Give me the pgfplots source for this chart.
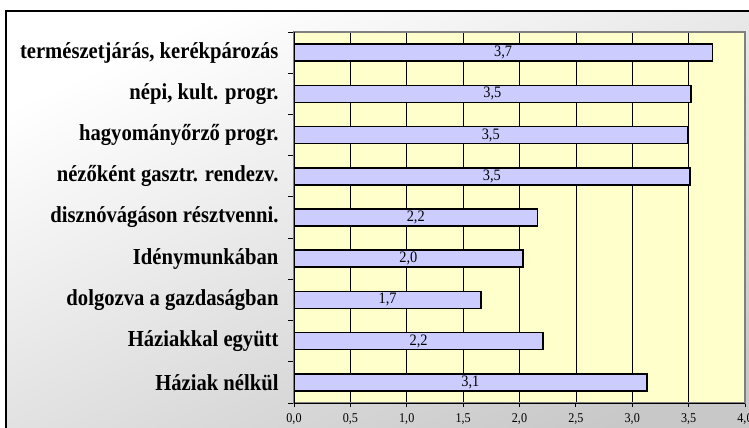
\documentclass[border=0pt]{standalone}
\usepackage{pgfplots}
\pgfplotsset{compat=1.18}
\usepackage{pgfplotstable}
\usepackage{fontspec}
\setmainfont{Liberation Serif}
\newfontfamily\stretchfont{Liberation Serif}[FakeStretch=0.9]
\definecolor{plotbg}{RGB}{255,255,204}
\definecolor{barfill}{RGB}{204,204,255}
\definecolor{bordergray}{RGB}{128,128,128}
\definecolor{bgend}{RGB}{200,200,200}
\pgfplotstableread{
y v
0 3.13
1 2.21
2 1.66
3 2.03
4 2.16
5 3.51
6 3.49
7 3.52
8 3.71
}\data
\begin{document}
\begin{tikzpicture}
\path[use as bounding box] (0,0) rectangle (749bp,428bp);
\shade[top color=white, bottom color=bgend, shading angle=25] (6bp,-20bp) rectangle (780bp,417bp);
\draw[line width=1.3bp] (6bp,-5bp) -- (6bp,417bp) -- (770bp,417bp);
\begin{axis}[
  at={(294bp,25bp)}, anchor=south west,
  scale only axis, width=451bp, height=371bp,
  xmin=0, xmax=4, ymin=-0.5, ymax=8.5,
  axis background/.style={fill=plotbg},
  axis line style={draw=bordergray, line width=1.5bp},
  /pgf/number format/assume math mode=true,
  xtick={0,0.5,...,4},
  xtick pos=bottom, ytick pos=left,
  xticklabel style={font=\stretchfont\fontsize{13.5}{15}\selectfont, yshift=-3bp, /pgf/number format/.cd, fixed, fixed zerofill, precision=1, use comma},
  xmajorgrids, grid style={black, line width=0.6bp},
  tick align=outside,
  major tick length=4bp, minor tick length=6bp,
  x tick style={black, line width=0.8bp},
  major y tick style={draw=none},
  minor y tick style={black, line width=0.8bp},
  ytick={0,...,8},
  minor ytick={-0.5,0.5,...,8.5},
  yticklabels={Háziak nélkül, Háziakkal együtt, dolgozva a gazdaságban, Idénymunkában\ , disznóvágáson résztvenni., nézőként gasztr. rendezv., hagyományőrző progr., {népi, kult. progr.}, {természetjárás, kerékpározás}},
  yticklabel style={font=\stretchfont\fontsize{23}{26}\selectfont\bfseries, xshift=-8bp},
]
\addplot[xbar, bar width=17bp, fill=barfill, draw=black, line width=1.5bp] table[x=v, y=y] {\data};
\addplot[draw=none, mark=none, nodes near coords, nodes near coords align=center, point meta=\thisrow{v},
  every node near coord/.append style={font=\stretchfont\fontsize{16}{18}\selectfont, /pgf/number format/.cd, fixed, fixed zerofill, precision=1, use comma, assume math mode=true}]
  table[x expr=\thisrow{v}/2, y=y] {\data};
\draw[bordergray, line width=1.5bp] (rel axis cs:1,0) -- (rel axis cs:1,1) -- (rel axis cs:0,1);
\draw[black, line width=1bp] (rel axis cs:0,1) -- (rel axis cs:0,0) -- (rel axis cs:1,0);
\end{axis}
\end{tikzpicture}
\end{document}
